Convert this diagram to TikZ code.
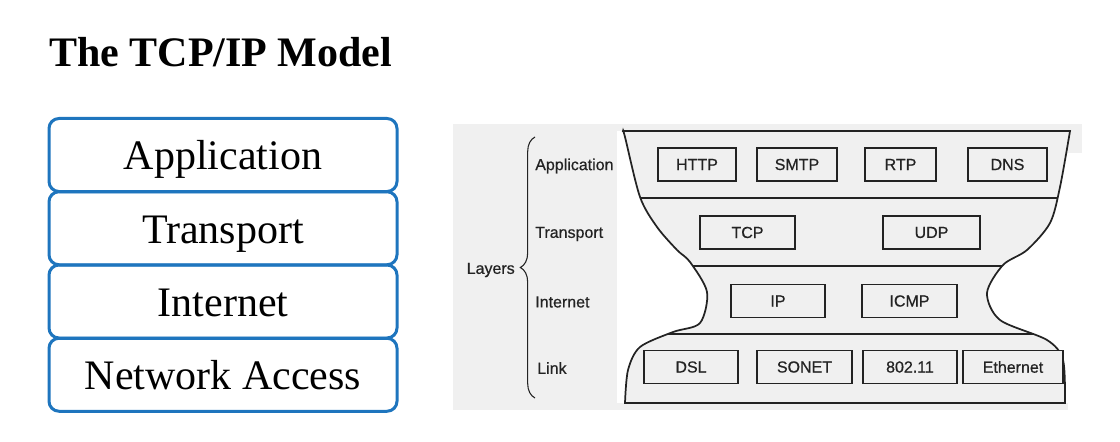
\documentclass[tikz,border=0pt]{standalone}
\usepackage{fontspec}
\setmainfont{Liberation Serif}
\newfontfamily\figfont[FakeBold=0.6]{Liberation Sans}
\usetikzlibrary{decorations.pathreplacing}
\definecolor{layerblue}{RGB}{30,117,190}
\definecolor{scan}{RGB}{240,240,240}
\definecolor{ink}{RGB}{35,35,35}

\begin{document}
\begin{tikzpicture}[
x=0.75pt,
y=-0.75pt,
layer/.style={
  draw=layerblue,
  line width=2.25pt,
  rounded corners=7.5pt,
  minimum width=261pt,
  minimum height=54.75pt,
  inner sep=0pt,
  text height=22.5pt,
  text depth=0pt,
  font=\fontsize{31.5}{36}\selectfont
  },
proto/.style={
  draw=ink,
  line width=1.2pt,
  fill=scan,
  minimum height=24.75pt,
  inner sep=0pt,
  text=ink,
  font=\figfont\fontsize{12}{14}\selectfont
  },
tag/.style={
  anchor=west,
  inner sep=0pt,
  text=ink,
  font=\figfont\fontsize{12}{14}\selectfont
  },
rim/.style={
  draw=ink,
  line width=1.3pt
  }
]
\useasboundingbox (0,0) rectangle (1120,442);

% outline of the hourglass
\def\glass{(623,131) -- (1070,131)
  -- plot[smooth] coordinates {(1070,131) (1060,187) (1050,223) (1027,250) (1003,265) (987,293) (1000,320) (1047,340) (1063,360) (1065,403)}
  -- (625,403)
  -- plot[smooth] coordinates {(625,403) (628,370) (640,347) (673,332) (700,323) (707,292) (690,262) (677,250) (657,227) (640,197) (625,137) (623,131)}
  -- cycle}

% scanned background
\fill[scan] (453,124) rectangle (617,410);
\fill[scan] (617,124) rectangle (1082,131);
\fill[scan] (1066,124) rectangle (1082,153);
\fill[scan] (617,403) rectangle (1068,410);
\fill[scan] \glass;

\begin{scope}
\clip \glass;
\foreach \ly in {198,266,334}
  \draw[rim] (600,\ly) -- (1090,\ly);
\end{scope}
\draw[rim] \glass;

% left: the four layers
\node[anchor=base west, inner sep=0pt, font=\bfseries\fontsize{31.5}{36}\selectfont] (title) at (49,67) {The TCP/IP Model};

\foreach \name/\txt [count=\i] in {app/Application, tra/Transport, int/Internet, net/Network Access}
  \node[layer] (\name) at (223,81.75+73.25*\i) {\txt};

% right: layer names
\node[tag] (lapp) at (535,166) {Application};
\node[tag] (ltra) at (535,234) {Transport};
\node[tag] (lint) at (535,302) {Internet};
\node[tag] (llink) at (537,368) {Link};

\draw[ink, line width=0.8pt, decorate, decoration={brace, amplitude=11pt}] (535,398) -- (535,137);
\node[tag, anchor=east] (layers) at (515,270) {Layers};

% protocols
\node[proto, minimum width=58.5pt] (http) at (697,164.5) {HTTP};
\node[proto, minimum width=60pt] (smtp) at (797,164.5) {SMTP};
\node[proto, minimum width=53.25pt] (rtp) at (900.5,164.5) {RTP};
\node[proto, minimum width=59.25pt] (dns) at (1007.5,164.5) {DNS};

\node[proto, minimum width=71.25pt] (tcp) at (747.5,232.5) {TCP};
\node[proto, minimum width=72.75pt] (udp) at (931.5,232.5) {UDP};

\node[proto, minimum width=70.5pt] (ip) at (778,301) {IP};
\node[proto, minimum width=71.25pt] (icmp) at (909.5,301) {ICMP};

\node[proto, minimum width=70.5pt] (dsl) at (691,367) {DSL};
\node[proto, minimum width=71.25pt] (sonet) at (804.5,367) {SONET};
\node[proto, minimum width=70.5pt] (wifi) at (910,367) {802.11};
\node[proto, minimum width=75pt] (eth) at (1013,367) {Ethernet};

\end{tikzpicture}
\end{document}
